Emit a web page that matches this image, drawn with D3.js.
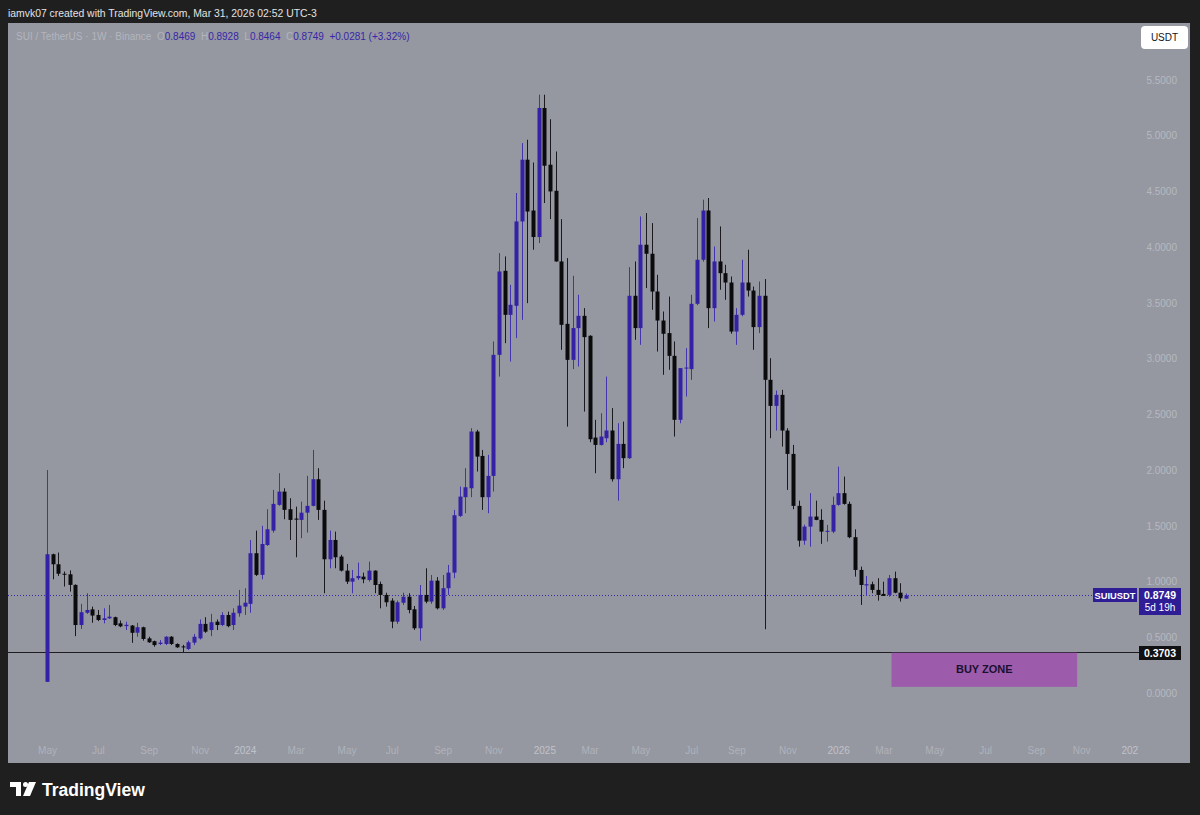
<!DOCTYPE html>
<html>
<head>
<meta charset="utf-8">
<script src="https://cdn.jsdelivr.net/npm/d3@7"></script>
<style>
  html, body { margin: 0; padding: 0; background: #1f1f1f; }
  svg { display: block; font-family: "Liberation Sans", Arial, sans-serif; }
</style>
</head>
<body>
<svg id="chart" width="1200" height="815"></svg>
<script>
// weekly SUI/USDT candles, first bar = week of 1 May 2023
var firstWeek = '2023-05-01';

var opens = [0.10, 1.245, 1.155, 1.07, 1.065, 0.97, 0.61, 0.72, 0.75, 0.70,
  0.655, 0.67, 0.68, 0.625, 0.60, 0.605, 0.541, 0.59, 0.49, 0.465,
  0.44, 0.44, 0.505, 0.44, 0.418, 0.395, 0.452, 0.49, 0.62, 0.565,
  0.64, 0.61, 0.70, 0.61, 0.715, 0.775, 0.80, 1.254, 1.06, 1.328,
  1.457, 1.688, 1.807, 1.649, 1.565, 1.553, 1.618, 1.679, 1.918, 1.643,
  1.20, 1.373, 1.224, 1.098, 0.999, 1.03, 1.044, 1.014, 1.098, 0.978,
  0.88, 0.829, 0.64, 0.81, 0.864, 0.751, 0.581, 0.88, 0.82, 1.008,
  0.76, 0.94, 1.08, 1.589, 1.757, 1.837, 2.346, 2.127, 1.757, 1.948,
  3.034, 3.788, 3.393, 3.474, 4.231, 4.785, 4.329, 4.091, 5.249, 4.74,
  4.506, 3.872, 3.312, 2.989, 3.274, 3.384, 3.205, 2.292, 2.226, 2.286,
  2.355, 1.918, 2.235, 2.107, 3.564, 3.274, 4.022, 3.941, 3.602, 3.342,
  3.229, 3.025, 2.451, 2.915, 2.906, 3.492, 3.887, 4.329, 3.453, 3.872,
  3.767, 3.683, 3.243, 3.393, 3.683, 3.611, 3.283, 3.564, 2.81, 2.576,
  2.675, 2.355, 2.145, 1.679, 1.367, 1.493, 1.583, 1.553, 1.45, 1.448,
  1.688, 1.793, 1.697, 1.398, 1.104, 0.965, 0.976, 0.925, 0.889, 0.88,
  1.03, 0.90, 0.8469];

var highs = [2.00, 1.25, 1.26, 1.09, 1.10, 0.975, 0.80, 0.895, 0.775, 0.745,
  0.76, 0.79, 0.685, 0.65, 0.64, 0.61, 0.63, 0.595, 0.505, 0.47,
  0.475, 0.51, 0.51, 0.445, 0.432, 0.47, 0.53, 0.66, 0.68, 0.71,
  0.66, 0.725, 0.73, 0.76, 0.925, 0.94, 1.373, 1.457, 1.50, 1.649,
  1.822, 1.972, 1.837, 1.748, 1.672, 1.717, 1.948, 2.181, 2.017, 1.726,
  1.457, 1.448, 1.24, 1.158, 1.104, 1.17, 1.08, 1.179, 1.10, 0.999,
  0.90, 0.85, 0.83, 0.90, 0.895, 0.781, 0.969, 1.119, 1.059, 1.04,
  1.059, 1.149, 1.643, 1.852, 2.017, 2.376, 2.361, 2.181, 2.136, 3.154,
  3.947, 3.917, 3.662, 4.486, 4.934, 4.964, 4.76, 5.368, 5.368, 5.148,
  4.859, 4.252, 3.902, 3.743, 3.573, 3.453, 3.21, 2.451, 2.51, 2.839,
  2.556, 2.421, 2.435, 3.821, 3.872, 4.276, 4.306, 4.216, 3.752, 3.423,
  3.557, 3.154, 2.915, 3.094, 3.573, 4.261, 4.426, 4.441, 4.006, 4.186,
  3.842, 3.737, 3.453, 3.887, 3.977, 3.647, 3.692, 3.714, 3.004, 2.714,
  2.72, 2.376, 2.226, 1.726, 1.51, 1.793, 1.726, 1.649, 1.508, 1.762,
  2.031, 1.942, 1.717, 1.469, 1.134, 1.05, 0.999, 1.03, 0.999, 1.059,
  1.089, 0.985, 0.8928];

var lows = [0.10, 1.02, 1.05, 0.955, 0.91, 0.51, 0.575, 0.71, 0.63, 0.645,
  0.625, 0.665, 0.60, 0.59, 0.565, 0.45, 0.505, 0.47, 0.45, 0.415,
  0.43, 0.43, 0.43, 0.405, 0.365, 0.385, 0.43, 0.48, 0.54, 0.51,
  0.565, 0.60, 0.59, 0.565, 0.685, 0.70, 0.72, 1.05, 1.02, 1.32,
  1.439, 1.68, 1.559, 1.373, 1.218, 1.389, 1.439, 1.675, 1.553, 0.895,
  1.119, 1.119, 1.09, 0.978, 0.895, 1.014, 0.985, 0.999, 0.895, 0.76,
  0.775, 0.581, 0.62, 0.79, 0.715, 0.566, 0.47, 0.805, 0.80, 0.75,
  0.745, 0.88, 1.03, 1.58, 1.613, 1.757, 1.987, 1.643, 1.613, 1.807,
  2.839, 3.139, 2.974, 3.184, 3.348, 3.498, 3.977, 4.037, 4.396, 4.252,
  3.87, 3.079, 2.39, 2.906, 2.929, 2.525, 2.25, 1.972, 2.22, 2.25,
  1.897, 1.726, 2.017, 2.10, 3.169, 3.124, 3.633, 3.438, 3.064, 2.855,
  2.90, 2.301, 2.42, 2.66, 2.81, 3.48, 3.87, 3.274, 3.333, 3.618,
  3.528, 3.223, 3.124, 3.38, 3.557, 3.079, 3.229, 0.572, 2.286, 2.355,
  2.211, 1.822, 1.649, 1.313, 1.33, 1.313, 1.55, 1.338, 1.358, 1.434,
  1.68, 1.69, 1.389, 1.044, 0.79, 0.871, 0.895, 0.829, 0.871, 0.864,
  0.895, 0.82, 0.8464];

var closes = [1.245, 1.155, 1.07, 1.065, 0.97, 0.61, 0.725, 0.745, 0.695, 0.655,
  0.67, 0.685, 0.61, 0.598, 0.612, 0.54, 0.59, 0.485, 0.455, 0.43,
  0.452, 0.505, 0.44, 0.41, 0.412, 0.455, 0.505, 0.62, 0.55, 0.635,
  0.61, 0.70, 0.60, 0.72, 0.784, 0.81, 1.254, 1.06, 1.337, 1.469,
  1.697, 1.807, 1.643, 1.553, 1.555, 1.618, 1.679, 1.918, 1.643, 1.20,
  1.373, 1.218, 1.098, 0.999, 1.03, 1.05, 1.02, 1.098, 0.969, 0.88,
  0.814, 0.64, 0.814, 0.864, 0.745, 0.581, 0.88, 0.82, 1.008, 0.76,
  0.94, 1.08, 1.595, 1.762, 1.846, 2.346, 2.121, 1.757, 1.948, 3.034,
  3.782, 3.393, 3.483, 4.231, 4.785, 4.32, 4.091, 5.249, 4.731, 4.50,
  3.872, 3.303, 2.989, 3.274, 3.384, 3.193, 2.277, 2.226, 2.301, 2.355,
  1.918, 2.235, 2.107, 3.564, 3.274, 4.022, 3.941, 3.602, 3.342, 3.223,
  3.025, 2.451, 2.915, 2.92, 3.492, 3.887, 4.329, 3.453, 3.872, 3.767,
  3.683, 3.243, 3.393, 3.683, 3.611, 3.283, 3.564, 2.81, 2.576, 2.675,
  2.355, 2.145, 1.679, 1.367, 1.493, 1.583, 1.553, 1.448, 1.455, 1.688,
  1.793, 1.697, 1.398, 1.104, 0.969, 0.976, 0.925, 0.88, 0.871, 1.03,
  0.90, 0.85, 0.8749];

var priceTicks = [0, 0.5, 1, 1.5, 2, 2.5, 3, 3.5, 4, 4.5, 5, 5.5];

var monthTicks = ['2023-05', '2023-07', '2023-09', '2023-11', '2024-01', '2024-03',
  '2024-05', '2024-07', '2024-09', '2024-11', '2025-01', '2025-03', '2025-05',
  '2025-07', '2025-09', '2025-11', '2026-01', '2026-03', '2026-05', '2026-07',
  '2026-09', '2026-11', '2027-01'];
var monthLabels = ['May', 'Jul', 'Sep', 'Nov', '2024', 'Mar', 'May', 'Jul', 'Sep',
  'Nov', '2025', 'Mar', 'May', 'Jul', 'Sep', 'Nov', '2026', 'Mar', 'May', 'Jul',
  'Sep', 'Nov', '2027'];

var lastPrice = 0.8749;
var supportLevel = 0.3703;
var buyZoneDates = ['2026-03-12', '2026-10-28'];
var buyZonePrices = [0.055, 0.3703];

var upColor = '#3421a6';
var downColor = '#0b0b0d';

var svg = d3.select('svg#chart');
var parse = d3.utcParse('%Y-%m-%d');
var parseMonth = d3.utcParse('%Y-%m');

var start = parse(firstWeek);
var dates = d3.utcMonday.range(start, d3.utcMonday.offset(start, opens.length));
var candles = dates.map(function (d, i) {
  return { date: d, o: opens[i], h: highs[i], l: lows[i], c: closes[i] };
});

var x = d3.scaleUtc()
  .domain([dates[0], dates[dates.length - 1]])
  .range([47, 906]);

var y = d3.scaleLinear()
  .domain([0, 5.5])
  .range([693, 80]);

// header
svg.append('text')
  .attr('x', 8)
  .attr('y', 17)
  .style('fill', '#e3e3e3')
  .style('font-size', '10.4px')
  .text('iamvk07 created with TradingView.com, Mar 31, 2026 02:52 UTC-3');

// chart panel
svg.append('rect')
  .attr('x', 8)
  .attr('y', 23)
  .attr('width', 1182)
  .attr('height', 740)
  .style('fill', '#9598a1');

// legend line
var legend = svg.append('text')
  .attr('x', 16)
  .attr('y', 40)
  .style('font-size', '10px');
var legendParts = [
  ['SUI / TetherUS \u00b7 1W \u00b7 Binance  ', '#b3b5bd'],
  ['O', '#b3b5bd'], ['0.8469  ', '#3726a8'],
  ['H', '#b3b5bd'], ['0.8928  ', '#3726a8'],
  ['L', '#b3b5bd'], ['0.8464  ', '#3726a8'],
  ['C', '#b3b5bd'], ['0.8749  +0.0281 (+3.32%)', '#3726a8']
];
legend.selectAll('tspan')
  .data(legendParts)
  .enter()
  .append('tspan')
    .attr('xml:space', 'preserve')
    .style('white-space', 'pre')
    .style('fill', function (d) { return d[1]; })
    .text(function (d) { return d[0]; });

// USDT button
svg.append('rect')
  .attr('x', 1141)
  .attr('y', 26)
  .attr('width', 47)
  .attr('height', 23)
  .attr('rx', 4)
  .style('fill', '#ffffff');
svg.append('text')
  .attr('x', 1164.5)
  .attr('y', 41)
  .attr('text-anchor', 'middle')
  .style('font-size', '10px')
  .style('fill', '#131722')
  .text('USDT');

// price axis
var yAxis = svg.append('g')
  .attr('transform', 'translate(1177,0)')
  .call(d3.axisRight(y).tickValues(priceTicks).tickFormat(d3.format('.4f')).tickSize(0).tickPadding(0));
yAxis.select('.domain').remove();
yAxis.selectAll('text')
  .attr('text-anchor', 'end')
  .style('font-size', '10px')
  .style('fill', '#b6b8c0')
  .style('font-family', '"Liberation Sans", Arial, sans-serif');

// time axis, clipped where the price scale starts
svg.append('clipPath')
  .attr('id', 'time-clip')
  .append('rect')
    .attr('x', 8)
    .attr('y', 730)
    .attr('width', 1131)
    .attr('height', 30);

var tickDates = monthTicks.map(function (m) { return d3.utcMonday.ceil(parseMonth(m)); });
var xAxis = svg.append('g')
  .attr('clip-path', 'url(#time-clip)')
  .append('g')
  .attr('transform', 'translate(0,744)')
  .call(d3.axisBottom(x).tickValues(tickDates)
    .tickFormat(function (d, i) { return monthLabels[i]; })
    .tickSize(0).tickPadding(0));
xAxis.select('.domain').remove();
xAxis.selectAll('text')
  .attr('dy', '0.95em')
  .style('font-size', '10px')
  .style('font-family', '"Liberation Sans", Arial, sans-serif')
  .style('fill', function (d, i) {
    return /^\d/.test(monthLabels[i]) ? '#c0c2c9' : '#b0b2ba';
  });

// support line
svg.append('line')
  .attr('x1', 8)
  .attr('x2', 1139)
  .attr('y1', Math.round(y(supportLevel)) + 0.5)
  .attr('y2', Math.round(y(supportLevel)) + 0.5)
  .style('stroke', '#1d1d22')
  .style('stroke-width', 1);

// buy zone
svg.append('rect')
  .attr('x', x(parse(buyZoneDates[0])))
  .attr('y', y(buyZonePrices[1]) + 1)
  .attr('width', x(parse(buyZoneDates[1])) - x(parse(buyZoneDates[0])))
  .attr('height', y(buyZonePrices[0]) - y(buyZonePrices[1]) - 1)
  .style('fill', '#9c5cab');
svg.append('text')
  .attr('x', (x(parse(buyZoneDates[0])) + x(parse(buyZoneDates[1]))) / 2)
  .attr('y', (y(buyZonePrices[0]) + y(buyZonePrices[1])) / 2 + 4)
  .attr('text-anchor', 'middle')
  .style('font-size', '11px')
  .style('font-weight', 'bold')
  .style('fill', '#1c1030')
  .text('BUY ZONE');

// last price dotted line
svg.append('line')
  .attr('x1', 8)
  .attr('x2', 1093)
  .attr('y1', Math.round(y(lastPrice)) + 0.5)
  .attr('y2', Math.round(y(lastPrice)) + 0.5)
  .style('stroke', '#3a2aa8')
  .style('stroke-dasharray', '1,2')
  .style('stroke-width', 1);

// candles
var candle = svg.append('g')
  .selectAll('g')
  .data(candles)
  .enter()
  .append('g');

candle.append('line')
  .attr('x1', function (d) { return Math.round(x(d.date)) + 0.5; })
  .attr('x2', function (d) { return Math.round(x(d.date)) + 0.5; })
  .attr('y1', function (d) { return y(d.h); })
  .attr('y2', function (d) { return y(d.l); })
  .style('stroke', function (d) { return d.c >= d.o ? '#4333ad' : '#1a1a1e'; })
  .style('stroke-width', 1);

candle.append('rect')
  .attr('x', function (d) { return Math.round(x(d.date)) - 1.5; })
  .attr('width', 4)
  .attr('y', function (d) { return y(Math.max(d.o, d.c)); })
  .attr('height', function (d) { return Math.max(1, Math.abs(y(d.o) - y(d.c))); })
  .style('fill', function (d) { return d.c >= d.o ? upColor : downColor; });

// last price labels
var lp = Math.round(y(lastPrice));
svg.append('rect')
  .attr('x', 1093)
  .attr('y', lp - 7)
  .attr('width', 44)
  .attr('height', 14)
  .style('fill', '#2f1d96');
svg.append('text')
  .attr('x', 1115)
  .attr('y', lp + 4)
  .attr('text-anchor', 'middle')
  .style('font-size', '9.3px')
  .style('font-weight', 'bold')
  .style('fill', '#ffffff')
  .text('SUIUSDT');
svg.append('rect')
  .attr('x', 1139)
  .attr('y', lp - 7)
  .attr('width', 42)
  .attr('height', 27)
  .style('fill', '#2f1d96');
svg.append('text')
  .attr('x', 1160)
  .attr('y', lp + 4)
  .attr('text-anchor', 'middle')
  .style('font-size', '10.5px')
  .style('font-weight', 'bold')
  .style('fill', '#ffffff')
  .text('0.8749');
svg.append('text')
  .attr('x', 1160)
  .attr('y', lp + 16)
  .attr('text-anchor', 'middle')
  .style('font-size', '10px')
  .style('fill', '#ffffff')
  .text('5d 19h');

// support label
var sp = Math.round(y(supportLevel));
svg.append('rect')
  .attr('x', 1139)
  .attr('y', sp - 6)
  .attr('width', 42)
  .attr('height', 14)
  .style('fill', '#111114');
svg.append('text')
  .attr('x', 1160)
  .attr('y', sp + 5)
  .attr('text-anchor', 'middle')
  .style('font-size', '10.5px')
  .style('font-weight', 'bold')
  .style('fill', '#ffffff')
  .text('0.3703');

// TradingView logo
var logo = svg.append('g').attr('transform', 'translate(10,782)');
logo.append('path')
  .attr('d', 'M0,0 H11 V14 H6 V5 H0 Z')
  .style('fill', '#ffffff');
logo.append('circle')
  .attr('cx', 15.5)
  .attr('cy', 2.5)
  .attr('r', 2.5)
  .style('fill', '#ffffff');
logo.append('path')
  .attr('d', 'M19,0 H26 L20,14 H13 Z')
  .style('fill', '#ffffff');
svg.append('text')
  .attr('x', 42)
  .attr('y', 796)
  .style('font-size', '17.5px')
  .style('font-weight', 'bold')
  .style('fill', '#ffffff')
  .text('TradingView');
</script>
</body>
</html>
